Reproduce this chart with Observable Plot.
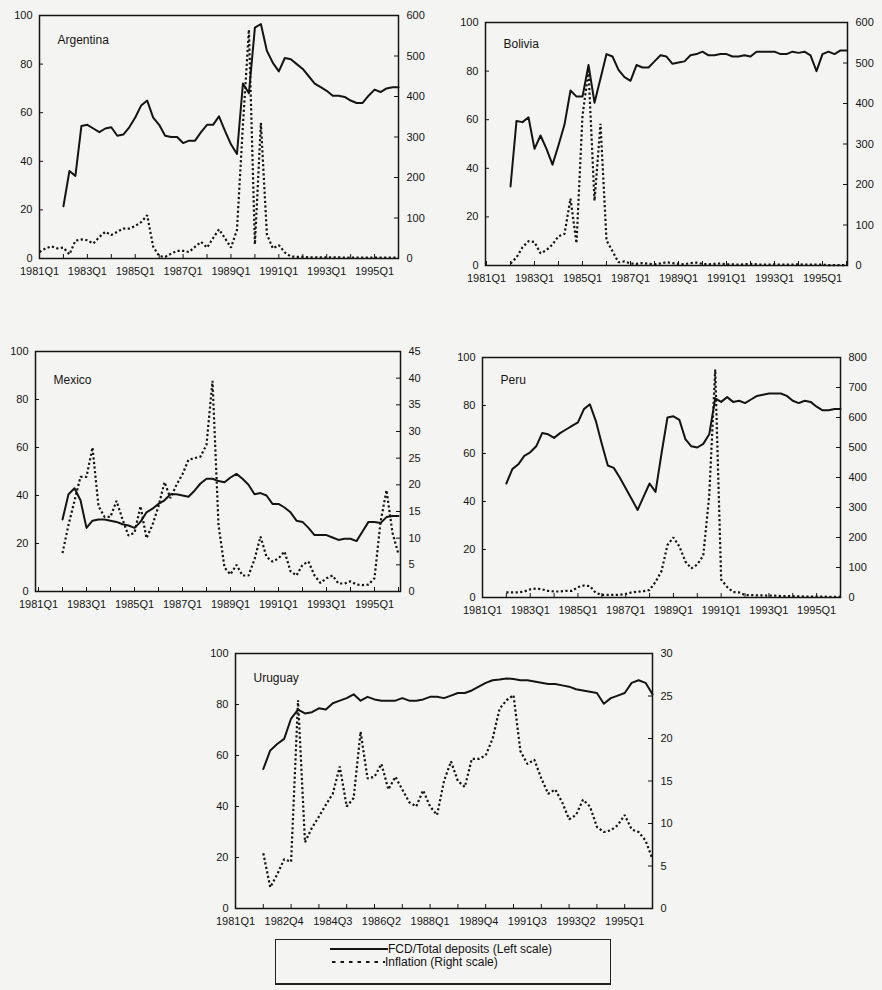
<!DOCTYPE html>
<html><head><meta charset="utf-8">
<script src="https://cdn.jsdelivr.net/npm/d3@7"></script>
<script src="https://cdn.jsdelivr.net/npm/@observablehq/plot@0.6"></script>
<style>
html,body{margin:0;padding:0;background:#f4f4f2;}
#page{position:relative;width:882px;height:990px;overflow:hidden;font-family:"Liberation Sans",Arial,sans-serif;color:#111;}
.panel{position:absolute;}
.panel svg{position:absolute;left:0;top:0;overflow:visible;}
#legend{position:absolute;left:275px;top:939px;width:336px;height:46px;border:1px solid #222;border-bottom-width:2px;box-sizing:border-box;font-size:12px;}
#legend .row{position:absolute;left:0;height:12px;display:flex;align-items:center;}
#legend .row span{line-height:12px;white-space:nowrap;}
#legend svg{display:block;}
</style></head><body><div id="page"></div>
<script>
// Quarter categories 1981Q1 .. 1996Q1
const quarters = [];
for (let y = 1981; y <= 1996; y++) for (let q = 1; q <= 4; q++) { if (y === 1996 && q > 1) break; quarters.push(`${y}Q${q}`); }
const yearTicks = quarters.filter(q => q.endsWith("Q1"));

const leftTicks = [0, 20, 40, 60, 80, 100];
const labelsEvery8 = ["1981Q1","1983Q1","1985Q1","1987Q1","1989Q1","1991Q1","1993Q1","1995Q1"];
const labelsUruguay = ["1981Q1","1982Q4","1984Q3","1986Q2","1988Q1","1989Q4","1991Q3","1993Q2","1995Q1"];

// Argentina
const argFcd = [21.5,36,34,54.5,55,53.5,52,53.5,54,50.5,51,54,58,63,65,58,55,50.5,50,50,47.5,48.5,48.5,52,55,55,58.5,52.5,47,43,72,68,95,96.5,85.5,80.5,77,82.5,82,80,78,75,72,70.5,69,67,67,66.5,65,64,64,67,69.5,68.5,70,70.5,70.5];
const argInfl = [16,25,30,25,27,10,44,47,45,37,53,66,58,66,74,74,80,90,107,29,6,4,12,19,19,16,29,41,27,50,72,50,27,70,330,565,35,335,60,25,33,15,5,4,4,3,3,3,3,3,3,2,2,2,2,2,2,2,2,2,2];
const argRightTicks = [0,100,200,300,400,500,600];

// Bolivia
const bolFcd = [32.5,59.5,59,61,48,53.5,48,41.5,49.5,58,72,69.5,69.5,82.5,67,77,87,86,80.5,77.5,76,82.5,81.5,81.5,84,86.5,86,83,83.5,84,86.5,87,88,86.5,86.5,87,87,86,86,86.5,86,88,88,88,88,87,87,88,87.5,88,86.5,80,87,88,87,88.5,88.5];
const bolInfl = [5,20,45,60,58,30,38,52,72,78,165,55,370,480,160,350,62,35,8,10,5,4,6,4,3,5,8,6,4,3,6,7,4,3,4,5,3,3,2,3,4,3,2,2,3,2,2,2,3,2,2,2,2,1,1,1,1];
const bolRightTicks = [0,100,200,300,400,500,600];

// Mexico
const mexFcd = [30,40.5,43,38,26.5,29.5,30,30,29.5,29,28,27.5,26.5,29,33,34.5,36.5,38,40.5,40.5,40,39.5,42,45,47,47,46,45.5,47.5,49,47,44.5,40.5,41,40,36.5,36.5,35,33,29.5,29,26.5,23.5,23.5,23.5,22.5,21.5,22,22,21,25,29,29,28.5,31,31.5,31.5];
const mexInfl = [7.2,12.5,17,21.5,21.5,27,16,14,14,17,13.5,10.5,11,16,10,12.5,16,20.5,17.5,20,22,24.7,25,25.3,27.5,39.5,12.5,4.5,3.2,5,3,3,6,10.3,6.5,5.6,6.2,7.5,3.8,3,5,5.6,3,1.6,2.5,3,1.5,1.5,1.9,1.3,1.2,1.3,2.5,13,19,11,7];
const mexRightTicks = [0,5,10,15,20,25,30,35,40,45];

// Peru
const perFcd = [47.5,53.5,55.5,59,60.5,63,68.5,68,66.5,68.5,70,71.5,73,78.5,80.5,73.5,64,55,54,50,45.5,41,36.5,42,47.5,44,60,75,75.5,74,66,63,62.5,64,68,83,81.5,83.5,81.5,82,81,82.5,84,84.5,85,85,85,84,82,81,82,81.5,79.5,78,78,78.5,78.5];
const perInfl = [17,17,17,20,27,30,27,22,20,20,22,22,35,40,38,15,9,9,9,9,12,17,19,21,25,52,88,175,200,170,120,97,110,140,340,760,60,35,18,17,8,8,7,7,6,6,5,5,4,4,3,3,3,3,2,2,2];
const perRightTicks = [0,100,200,300,400,500,600,700,800];

// Uruguay
const uruFcd = [54.7,62,64.5,66.5,74.5,78,76.5,77,78.5,78,80.5,81.5,82.5,84,81.5,83,82,81.5,81.5,81.5,82.5,81.5,81.5,82,83,83,82.5,83.5,84.5,84.5,85.5,87,88.5,89.5,89.8,90.2,90,89.5,89.5,89,88.5,88,88,87.5,87,86,85.5,85,84.5,80.3,82.5,83.5,84.5,88.5,89.5,88.5,84];
const uruInfl = [6.5,2.5,4,5.8,5.5,24.5,7.8,9.5,10.8,12.2,13.5,16.7,12,13,20.8,15.3,15.5,17,14,15.5,14,12.5,12,13.9,12,11,15,17.3,15,14.3,17.6,17.6,18,20,23.5,24.5,25.1,18.5,17,17.5,15.3,13.5,14,12.5,10.5,11,12.8,12,9.6,9,9.2,9.8,11,9.3,9,8,5.8];
const uruRightTicks = [0,5,10,15,20,25,30];

const legendItems = ["FCD/Total deposits (Left scale)", "Inflation (Right scale)"];

function rows(start, values) {
  const s = quarters.indexOf(start);
  return values.map((v, i) => ({q: quarters[s + i], v}));
}

const panels = [
  {name: "Argentina", x0: 39, x1: 398, y0: 15, y1: 258, titleDy: 20, labels: labelsEvery8, fcdStart: "1982Q1", fcd: argFcd, inflStart: "1981Q1", infl: argInfl, rightTicks: argRightTicks},
  {name: "Bolivia", x0: 485, x1: 847, y0: 22, y1: 265, titleDy: 17, labels: labelsEvery8, fcdStart: "1982Q1", fcd: bolFcd, inflStart: "1982Q1", infl: bolInfl, rightTicks: bolRightTicks},
  {name: "Mexico", x0: 35, x1: 400, y0: 351, y1: 591, titleDy: 24, labels: labelsEvery8, fcdStart: "1982Q1", fcd: mexFcd, inflStart: "1982Q1", infl: mexInfl, rightTicks: mexRightTicks},
  {name: "Peru", x0: 482, x1: 840, y0: 357, y1: 597, titleDy: 18, labels: labelsEvery8, fcdStart: "1982Q1", fcd: perFcd, inflStart: "1982Q1", infl: perInfl, rightTicks: perRightTicks},
  {name: "Uruguay", x0: 235, x1: 652, y0: 653, y1: 908, titleDy: 20, labels: labelsUruguay, fcdStart: "1982Q1", fcd: uruFcd, inflStart: "1982Q1", infl: uruInfl, rightTicks: uruRightTicks}
];

const mL = 40, mR = 40, mT = 12, mB = 30;
const page = document.getElementById("page");
const ink = "#141414";
const style = {fontFamily: "'Liberation Sans', Arial, sans-serif", fontSize: "11px", background: "transparent", color: ink, overflow: "visible"};

for (const cfg of panels) {
  const pw = cfg.x1 - cfg.x0, ph = cfg.y1 - cfg.y0;
  const W = pw + mL + mR, H = ph + mT + mB;
  const div = document.createElement("div");
  div.className = "panel";
  div.style.left = (cfg.x0 - mL) + "px";
  div.style.top = (cfg.y0 - mT) + "px";
  div.style.width = W + "px";
  div.style.height = H + "px";
  const common = {width: W, height: H, marginLeft: mL, marginRight: mR, marginTop: mT, marginBottom: mB, style};
  const xScale = {type: "point", domain: quarters, padding: 0};
  const rightMax = cfg.rightTicks[cfg.rightTicks.length - 1];

  const p1 = Plot.plot({
    ...common,
    x: xScale,
    y: {domain: [0, 100]},
    marks: [
      Plot.ruleX(yearTicks, {x: d => d, insetTop: ph - 4, stroke: ink, strokeWidth: 1}),
      Plot.ruleY(leftTicks, {y: d => d, insetRight: pw - 4, stroke: ink, strokeWidth: 1}),
      Plot.axisX({ticks: cfg.labels, tickSize: 0, tickPadding: 9, label: null, fill: ink}),
      Plot.axisY({ticks: leftTicks, tickSize: 0, tickPadding: 7, label: null, fill: ink}),
      Plot.line(rows(cfg.fcdStart, cfg.fcd), {x: "q", y: "v", stroke: ink, strokeWidth: 2, strokeLinejoin: "round"}),
      Plot.text([cfg.name], {text: d => d, frameAnchor: "top-left", dx: 18, dy: cfg.titleDy, textAnchor: "start", fontSize: 12, fill: ink}),
      Plot.frame({stroke: ink, strokeWidth: 1.5})
    ]
  });
  const p2 = Plot.plot({
    ...common,
    x: {...xScale, axis: null},
    y: {domain: [0, rightMax]},
    marks: [
      Plot.ruleY(cfg.rightTicks, {y: d => d, insetLeft: pw - 4, stroke: ink, strokeWidth: 1}),
      Plot.axisY({anchor: "right", ticks: cfg.rightTicks, tickSize: 0, tickPadding: 8, label: null, fill: ink}),
      Plot.line(rows(cfg.inflStart, cfg.infl), {x: "q", y: "v", stroke: ink, strokeWidth: 2.2, strokeLinecap: "butt", strokeLinejoin: "miter", strokeDasharray: "2.2,2.4"})
    ]
  });
  div.appendChild(p1);
  div.appendChild(p2);
  page.appendChild(div);
}

// Legend
const legend = document.createElement("div");
legend.id = "legend";
legendItems.forEach((label, i) => {
  const row = document.createElement("div");
  row.className = "row";
  row.style.top = (i === 0 ? 3 : 16) + "px";
  row.style.left = (i === 0 ? 54 : 56) + "px";
  const ns = "http://www.w3.org/2000/svg";
  const svg = document.createElementNS(ns, "svg");
  const lw = i === 0 ? 58 : 53;
  svg.setAttribute("width", lw); svg.setAttribute("height", 10);
  const ln = document.createElementNS(ns, "line");
  ln.setAttribute("x1", 0); ln.setAttribute("x2", lw); ln.setAttribute("y1", 5); ln.setAttribute("y2", 5);
  ln.setAttribute("stroke", ink); ln.setAttribute("stroke-width", 2);
  if (i === 1) ln.setAttribute("stroke-dasharray", "3.5,5");
  svg.appendChild(ln);
  const span = document.createElement("span");
  span.textContent = label;
  row.appendChild(svg); row.appendChild(span);
  legend.appendChild(row);
});
page.appendChild(legend);
</script></body></html>
